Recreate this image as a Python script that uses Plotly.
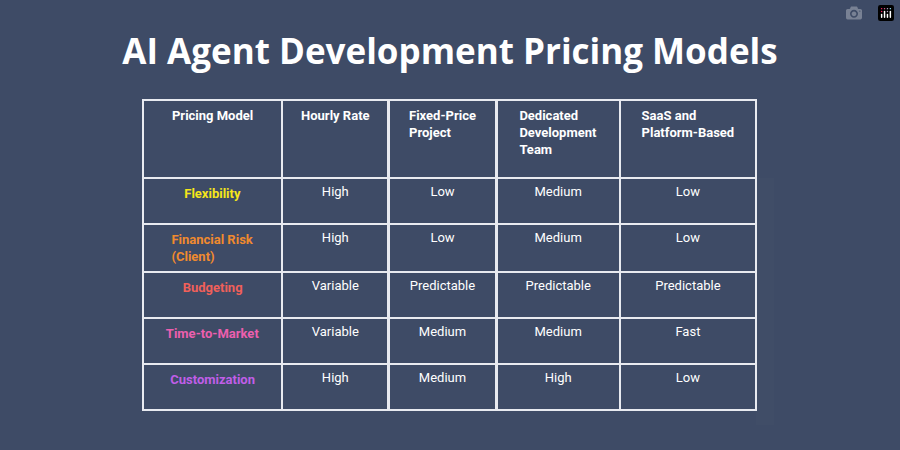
import plotly.graph_objects as go

columns = ["<br><br>Pricing Model", "<br><br>Hourly Rate", "<br>Fixed-Price<br>Project",
           "Dedicated<br>Development<br>Team", "<br>SaaS and<br>Platform-Based"]
criteria = ["Flexibility", "Financial Risk<br>(Client)", "Budgeting",
            "Time-to-Market", "Customization"]
hourly = ["High", "High", "Variable", "Variable", "High"]
fixed_price = ["Low", "Low", "Predictable", "Medium", "Medium"]
dedicated = ["Medium", "Medium", "Predictable", "Medium", "High"]
saas = ["Low", "Low", "Predictable", "Fast", "Low"]
criteria_colors = ["#f5e61a", "#f08a2e", "#f0605a", "#ec5fae", "#c05ee8"]

BG = "#3e4b66"

criteria_cells = [f"<b>{c}</b>" for c in criteria]
font_colors = [criteria_colors] + [["white"] * 5] * 4

fig = go.Figure(go.Table(
    domain=dict(x=[143 / 900, 756 / 900], y=[1 - 425 / 450, 1 - 100 / 450]),
    columnwidth=[139, 106, 108, 123, 136],
    header=dict(
        values=[f"<b>{c}</b>" for c in columns],
        fill_color=BG,
        line=dict(color="#e8eaf0", width=2.5),
        font=dict(family="Roboto", size=13, color="white"),
        align="center",
        height=78,
    ),
    cells=dict(
        values=[criteria_cells, hourly, fixed_price, dedicated, saas],
        fill_color=BG,
        line=dict(color="#e8eaf0", width=2.5),
        font=dict(family="Roboto", size=13, color=font_colors),
        align="center",
        height=46,
    ),
))

fig.update_layout(
    width=900, height=450,
    paper_bgcolor=BG, plot_bgcolor=BG,
    margin=dict(l=0, r=0, t=0, b=0),
    title=dict(text="<b>AI Agent Development Pricing Models</b>",
               x=0.5, xanchor="center", y=1 - 52 / 450, yanchor="middle",
               font=dict(family="Open Sans", size=35, color="white")),
)

fig.write_html(
    "out.html",
    post_script="document.body.style.margin='0';document.body.style.background='#3e4b66';",
)
